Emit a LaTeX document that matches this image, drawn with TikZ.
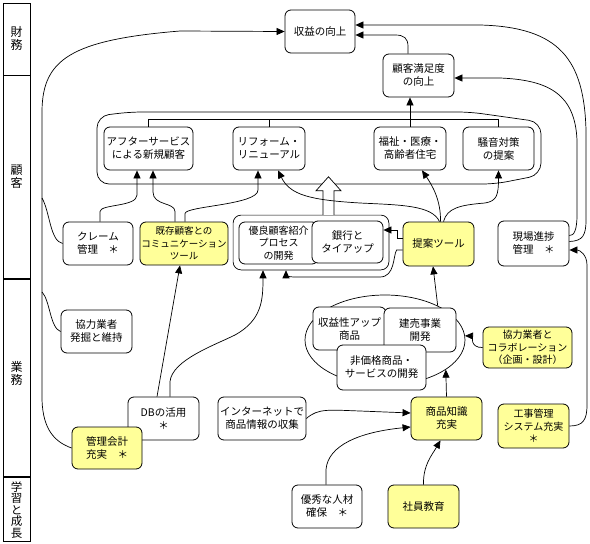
\documentclass[tikz,border=0pt]{standalone}
\usepackage{fontspec}
\setmainfont{Noto Sans CJK JP}
\usepackage{xcolor}
\usetikzlibrary{arrows.meta,calc,fit,shapes.geometric}
\definecolor{hellgelb}{HTML}{FFFF99}
\tikzset{
  box/.style={draw,line width=0.8pt,rounded corners=6pt,fill=white,align=center,inner sep=1pt,
    font=\fontsize{10.5}{13}\selectfont},
  gbox/.style={box,fill=hellgelb},
  gr/.style 2 args={minimum width=#1pt,minimum height=#2pt},
  lab/.style={align=center,inner sep=0pt,font=\fontsize{12}{13}\selectfont},
  pfeil/.style={-{Triangle[length=8pt,width=7pt]},line width=0.7pt},
  linie/.style={line width=0.7pt},
}
\begin{document}
\begin{tikzpicture}[x=1pt,y=-1pt]
\useasboundingbox (0,0) rectangle (590,544);
\fill[white] (0,0) rectangle (590,544);

\draw[line width=0.8pt] (3,3) rectangle (30,541);
\draw[line width=0.8pt] (3,75) -- (30,75);
\draw[line width=1.6pt] (3,279) -- (30,279);
\draw[line width=1.6pt] (3,477) -- (30,477);
\node[lab] (fin) at (16.5,38) {財\\務};
\node[lab] (cus) at (16.5,177) {顧\\客};
\node[lab] (ops) at (16.5,373) {業\\務};
\node[lab,font=\fontsize{11.5}{11.6}\selectfont] (lrn) at (16.5,510) {学\\習\\と\\成\\長};

\draw[linie,rounded corners=12pt] (97,184) -- (97,116) -- (130,112) -- (470,112) -- (541,122)
  -- (541,175) -- (495,184) -- cycle;

\node[box,gr={70}{43}] (rev) at (320,31.5) {収益の向上};
\node[box,gr={71}{43}] (sat) at (418.5,75.5) {顧客満足度\\の向上};
\node[box,gr={89}{43}] (after) at (148.5,148.5) {アフターサービス\\による新規顧客};
\node[box,gr={72}{43}] (reform) at (269,148.5) {リフォーム・\\リニューアル};
\node[box,gr={72}{43}] (welfare) at (410,148.5) {福祉・医療・\\高齢者住宅};
\node[box,gr={71}{43}] (noise) at (498.5,148.5) {騒音対策\\の提案};

\node[box,gr={70}{43}] (claim) at (98,243.5) {クレーム\\管理　＊};
\node[gbox,gr={88}{43},font=\fontsize{9.5}{12.5}\selectfont] (comm) at (184,243.5) {既存顧客との\\コミュニケーション\\ツール};
\node[box,gr={79}{42},font=\fontsize{10}{12.5}\selectfont] (refer) at (278.5,243) {優良顧客紹介\\プロセス\\の開発};
\node[box,gr={71}{42}] (bank) at (347.5,242) {銀行と\\タイアップ};
\node[draw,linie,rounded corners=8pt,fit=(refer)(bank),inner sep=5.5pt] (clus) {};
\node[gbox,gr={71}{44}] (prop) at (438.5,244) {提案ツール};
\node[box,gr={71}{45}] (site) at (533.5,243.5) {現場進捗\\管理　＊};

\node[box,gr={71}{43}] (partner) at (96.5,331.5) {協力業者\\発掘と維持};
\node[draw,linie,ellipse,minimum width=160pt,minimum height=90pt,inner sep=0pt] (grp) at (385,340) {};
\node[box,gr={73}{43}] (profit) at (349.5,328.5) {収益性アップ\\商品};
\node[box,gr={72}{44}] (built) at (420,330) {建売事業\\開発};
\node[box,gr={89}{45}] (nonprice) at (381.5,367.5) {非価格商品・\\サービスの開発};
\node[gbox,gr={89}{41},font=\fontsize{10}{12.5}\selectfont] (collab) at (527.5,347.5) {協力業者と\\コラボレーション\\（企画・設計）};

\node[box,gr={71}{43}] (db) at (163.5,418.5) {DBの活用\\＊};
\node[gbox,gr={70}{42}] (acct) at (107,448) {管理会計\\充実　＊};
\node[box,gr={88}{43}] (net) at (262,418.5) {インターネットで\\商品情報の収集};
\node[gbox,gr={71}{43}] (know) at (446.5,418.5) {商品知識\\充実};
\node[gbox,gr={71}{44},font=\fontsize{10}{12.5}\selectfont] (constr) at (533.5,426) {工事管理\\システム充実\\＊};
\node[box,gr={70}{43}] (talent) at (327,506.5) {優秀な人材\\確保　＊};
\node[gbox,gr={71}{43}] (edu) at (423.5,506.5) {社員教育};

\draw[linie] (after.north) -- (after.north |- 0,119) -- (noise.north |- 0,119) -- (noise.north);
\draw[linie] (reform.north) -- (reform.north |- 0,119);
\draw[linie,fill=white] ($(clus.north)+(12,0)$) -- ++(0,-24) -- ++(-7,0) -- ++(12.5,-14)
  -- ++(12.5,14) -- ++(-7,0) -- ++(0,24);

\draw[pfeil] (acct.west) .. controls (55,442) and (43,430) .. (42,400) -- (42,110)
  .. controls (43,60) and (70,40) .. (180,31) -- (rev.west);
\draw[linie] (claim.west) .. controls (50,241) and (50,212) .. (42,198);
\draw[linie] (partner.west) .. controls (50,328) and (50,300) .. (42,292);
\draw[pfeil] ($(sat.north)+(-10.5,0)$) -- ++(0,-7) .. controls (408,38) and (404,35) .. (395,35)
  -- ($(rev.east)+(0,3.5)$);
\draw[pfeil] ($(site.east)+(0,-2)$) .. controls (583,241) and (586,235) .. (586,220) -- (586,130)
  .. controls (584,60) and (560,27) .. (480,25) -- ($(rev.east)+(0,-6.5)$);
\draw[pfeil] ($(site.east)+(0,-8)$) .. controls (574,236) and (577,230) .. (577,215) -- (577,140)
  .. controls (575,95) and (550,80) .. (500,78) -- ($(sat.east)+(0,2.5)$);
\draw[pfeil] (constr.east) .. controls (583,426) and (587,420) .. (587,405) -- (587,265)
  .. controls (587,255) and (580,250) .. ($(site.east)+(0,6.5)$);
\draw[pfeil] (welfare.north) -- (welfare.north |- sat.south);

\draw[pfeil] ($(claim.north)+(2,0)$) -- ++(0,-10) .. controls (100,204) and (137,207) .. (137,195)
  -- ($(after.south)+(-11.5,0)$);
\draw[pfeil] ($(comm.north)+(-9,0)$) -- ++(0,-10) .. controls (175,202) and (153,206) .. (153,192)
  -- ($(after.south)+(4.5,0)$);
\draw[pfeil] ($(comm.north)+(1,0)$) -- ++(0,-8) .. controls (185,206) and (258,205) .. (258,190)
  -- ($(reform.south)+(-11,0)$);
\draw[pfeil] ($(prop.north)+(1,0)$) .. controls (432,205) and (400,205) .. (360,203)
  .. controls (310,200) and (290,195) .. ($(reform.south)+(9,0)$);
\draw[pfeil] ($(prop.north)+(2,0)$) .. controls (441,200) and (432,185) .. ($(welfare.south)+(12,0)$);
\draw[pfeil] ($(prop.north)+(5,0)$) .. controls (447,208) and (460,205) .. (485,203)
  .. controls (497,201) and (498.5,195) .. (noise.south);
\draw[pfeil] ($(prop.west)+(0,-6)$) -- ++(-5,0) -- ++(0,-8) -- ($(bank.east)+(0,-12)$);
\draw[pfeil] ($(prop.west)+(0,6)$) -- ++(-6,0) .. controls (393,256) and (395,277) .. (380,277)
  -- (295,277) .. controls (288,277) and (286,275) .. ($(clus.south)+(-25,0)$);

\draw[pfeil] ($(db.north)+(-6.5,0)$) -- ($(comm.south)+(-4,0)$);
\draw[pfeil] ($(db.north)+(6.5,0)$) -- ++(0,-15) .. controls (172,360) and (215,345) .. (235,335)
  .. controls (262,320) and (263,300) .. ($(clus.south)+(-48,0)$);
\draw[pfeil] (grp.33) -- ($(prop.south)+(-5.5,0)$);
\draw[pfeil] (know.north) -- (grp.-26);
\draw[pfeil] (collab.west) .. controls (470,348) and (472,336) .. (grp.3);
\draw[pfeil] (net.east) .. controls (318,408) and (330,410) .. (360,411) -- ($(know.west)+(0,-5.5)$);
\draw[pfeil] ($(talent.north)+(-1,0)$) -- ++(0,-15) .. controls (328,445) and (360,432)
  .. ($(know.west)+(0,8.5)$);
\draw[pfeil] (edu.north) .. controls (423,465) and (432,455) .. ($(know.south)+(-6,0)$);
\end{tikzpicture}
\end{document}
